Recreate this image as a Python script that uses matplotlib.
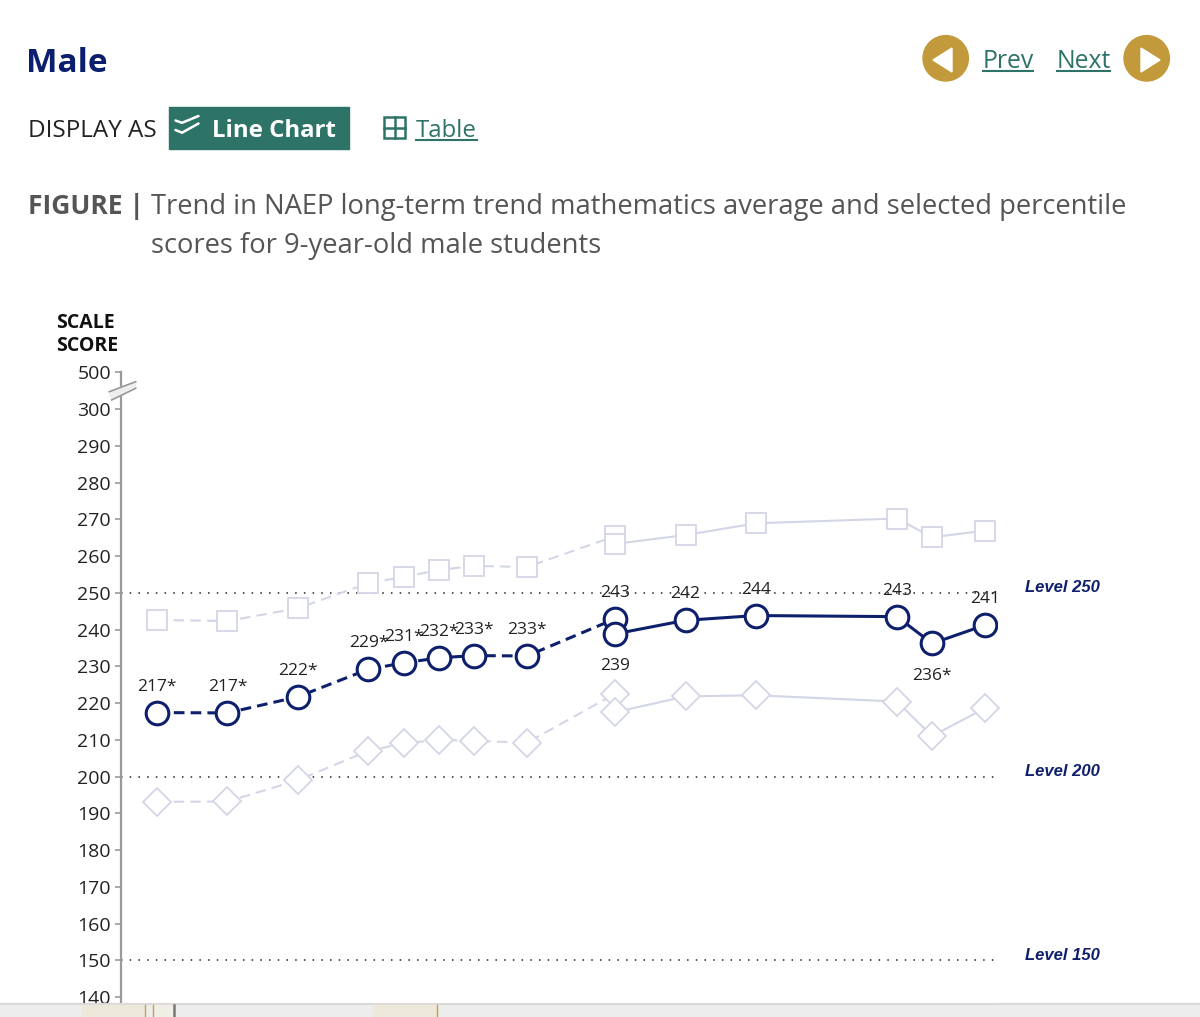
import matplotlib.pyplot as plt
from matplotlib.patches import Rectangle, Circle, Polygon
from matplotlib.lines import Line2D

plt.rcParams['font.family'] = ['Open Sans', 'DejaVu Sans']

# --- data ---
years_old = [1978, 1982, 1986, 1990, 1992, 1994, 1996, 1999, 2004]
avg_old = [217.4, 217.3, 221.7, 229.2, 230.9, 232.3, 232.9, 232.8, 242.9]
lab_old = ['217*', '217*', '222*', '229*', '231*', '232*', '233*', '233*', '243']
p75_old = [242.6, 242.3, 245.8, 252.6, 254.3, 256.2, 257.3, 257.0, 265.4]
p25_old = [193.1, 193.2, 199.0, 207.0, 209.0, 210.0, 209.7, 209.2, 222.5]

years_new = [2004, 2008, 2012, 2020, 2022, 2025]
avg_new = [238.8, 242.5, 243.8, 243.5, 236.2, 241.2]
lab_new = ['239', '242', '244', '243', '236*', '241']
p75_new = [263.3, 265.7, 268.9, 270.2, 265.1, 266.9]
p25_new = [217.5, 221.8, 222.1, 220.4, 211.0, 218.6]

levels = [250, 200, 150]
yticks = list(range(140, 301, 10))
ytick_labels = [str(t) for t in yticks]

navy = '#0e206c'
light = '#d3d6e6'
teal = '#2e7367'
gold = '#c39a3b'
gray_txt = '#555555'

W, H = 1200, 1017
fig = plt.figure(figsize=(W / 100, H / 100), dpi=100)
T = fig.dpi_scale_trans


def P(x, y):
    # pixel (top-left origin) -> inches
    return x / 100, (H - y) / 100


def ftext(x, y, s, **kw):
    fig.text(*P(x, y), s, transform=T, **kw)


def fline(xs, ys, **kw):
    pts = [P(a, b) for a, b in zip(xs, ys)]
    fig.add_artist(Line2D([p[0] for p in pts], [p[1] for p in pts], transform=T, **kw))


# --- header ---
ftext(26, 72, 'Male', fontsize=24, fontweight='bold', color='#0c1f6e', va='baseline')

for cx, left in [(945.7, True), (1146.7, False)]:
    fig.add_artist(Circle(P(cx, 58.3), 0.227, transform=T, color=gold))
    if left:
        tri = [P(933, 60), P(952, 48), P(952, 72)]
    else:
        tri = [P(1160, 60), P(1141, 48), P(1141, 72)]
    fig.add_artist(Polygon(tri, closed=True, transform=T, color='white'))

ftext(983, 68, 'Prev', fontsize=17.8, color=teal, va='baseline')
fline([983, 1033], [71, 71], color=teal, lw=1.5)
ftext(1057, 68, 'Next', fontsize=17.8, color=teal, va='baseline')
fline([1057, 1110], [71, 71], color=teal, lw=1.5)

ftext(28, 137, 'DISPLAY AS', fontsize=17.5, color='#222222', va='baseline')
x0, y0 = P(169, 149)
fig.add_artist(Rectangle((x0, y0), 1.80, 0.42, transform=T, color=teal))
fline([175.5, 182, 198.5], [120.5, 122.8, 116], color='white', lw=1.8, solid_capstyle='round')
fline([175.5, 182, 198.5], [130, 132.7, 123.5], color='white', lw=1.8, solid_capstyle='round')
ftext(212, 137, 'Line Chart', fontsize=17.3, fontweight='bold', color='white', va='baseline')

x0, y0 = P(384, 138)
fig.add_artist(Rectangle((x0, y0), 0.21, 0.21, transform=T, fill=False, ec=teal, lw=1.8))
fline([394.5, 394.5], [117, 138], color=teal, lw=1.8)
fline([384, 405], [127.5, 127.5], color=teal, lw=1.8)
ftext(416, 137, 'Table', fontsize=17.3, color=teal, va='baseline')
fline([416, 477], [140, 140], color=teal, lw=1.5)

ftext(28, 214, 'FIGURE |', fontsize=19, fontweight='bold', color=gray_txt, va='baseline')
ftext(151, 214, 'Trend in NAEP long-term trend mathematics average and selected percentile',
      fontsize=19.7, color=gray_txt, va='baseline')
ftext(151, 253, 'scores for 9-year-old male students', fontsize=19.7, color=gray_txt, va='baseline')

ftext(56, 328, 'SCALE', fontsize=14, fontweight='bold', color='#111111', va='baseline')
ftext(56, 351, 'SCORE', fontsize=14, fontweight='bold', color='#111111', va='baseline')

# --- chart ---
ax = fig.add_axes([121 / W, 1 - 1003 / H, (997 - 121) / W, (1003 - 372) / H])
ax.set_xlim(1975.957, 2025.68)
ax.set_ylim(138.37, 310.07)

for s in ['top', 'right', 'bottom']:
    ax.spines[s].set_visible(False)
ax.spines['left'].set_color('#999999')
ax.spines['left'].set_linewidth(1.6)
ax.set_xticks([])
ax.set_yticks(yticks + [310])
ax.set_yticklabels(ytick_labels + ['500'])
ax.tick_params(axis='y', length=4.3, width=1.2, color='#999999', pad=2.9,
               labelsize=14, labelcolor='#222222')

for lv in levels:
    ax.axhline(lv, color='#222222', lw=1.1, ls=(0, (1, 4.7)), zorder=1)
    ax.annotate('Level %d' % lv, xy=(1, lv), xycoords=('axes fraction', 'data'),
                xytext=(20, 3.6), textcoords='offset points', va='center', ha='left',
                fontsize=12, fontweight='bold', fontstyle='italic', color=navy,
                family=['Liberation Sans', 'DejaVu Sans'], annotation_clip=False)

# percentile lines
for ys_old, ys_new, mk, ms in [(p75_old, p75_new, 's', 15), (p25_old, p25_new, 'D', 14.6)]:
    ax.plot(years_old, ys_old, color=light, lw=1.5, ls=(0, (5, 3)), marker=mk, ms=ms,
            mfc='white', mec=light, mew=1.3, zorder=2, clip_on=False)
    ax.plot(years_new, ys_new, color=light, lw=1.5, ls='-', marker=mk, ms=ms,
            mfc='white', mec=light, mew=1.3, zorder=2, clip_on=False)

# average
ax.plot(years_old, avg_old, color=navy, lw=2.2, ls=(0, (3.5, 2)), marker='o', ms=16.3,
        mfc='white', mec=navy, mew=2.2, zorder=3)
ax.plot(years_new, avg_new, color=navy, lw=2.2, ls='-', marker='o', ms=16.3,
        mfc='white', mec=navy, mew=2.2, zorder=4)

below = {'239', '236*'}
for xs, ys, labs in [(years_old, avg_old, lab_old), (years_new, avg_new, lab_new)]:
    for x, y, lb in zip(xs, ys, labs):
        dy = -26 if lb in below else 15.8
        ax.annotate(lb, xy=(x, y), xytext=(0, dy), textcoords='offset points',
                    ha='center', va='baseline', fontsize=12.5, color='#222222', zorder=5)

# axis break marks
brk = [P(109.3, 391.7), P(135.7, 381.7), P(135.7, 388.3), P(111.7, 400)]
fig.add_artist(Polygon(brk, closed=True, transform=T, color='#eeeeee', zorder=10))
fline([109.3, 135.7], [391.7, 381.7], color='#999999', lw=1.2, zorder=11)
fline([111.7, 135.7], [400, 388.3], color='#999999', lw=1.2, zorder=11)

# cropped page strip at the bottom
x0, y0 = P(0, 1017)
fig.add_artist(Rectangle((x0, y0), 12, 0.14, transform=T, color='#ededed', zorder=0))
fline([0, 1200], [1004, 1004], color='#d9d9d9', lw=1.5, zorder=1)
for a, b, c in [(82, 145, '#eee8da'), (153, 174, '#f1eee6'), (373, 437, '#eee8da')]:
    x0, y0 = P(a, 1017)
    fig.add_artist(Rectangle((x0, y0), (b - a) / 100, 0.125, transform=T, color=c, zorder=1))
for xg, cg in [(145, '#c9a042'), (153, '#c9a042'), (174, '#777777'), (437, '#c9a042')]:
    fline([xg, xg], [1005, 1017], color=cg, lw=1.0 if cg != '#777777' else 1.8, zorder=2)

fig.savefig('out.png', dpi=100)
